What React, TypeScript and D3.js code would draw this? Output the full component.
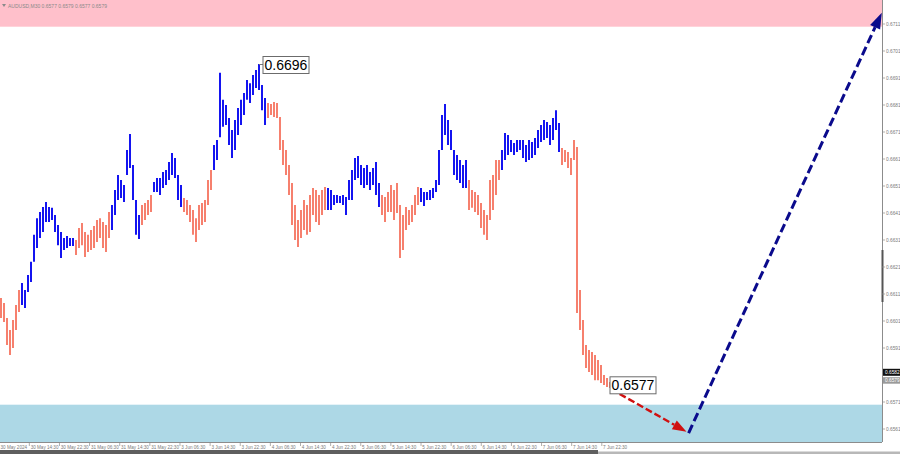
import React from 'react';
import * as d3 from 'd3';

// Bar highs / lows (AUDUSD)
const highs = [
  0.66095, 0.66077, 0.66021, 0.65977, 0.66014, 0.66069, 0.66125, 0.66151, 0.66125, 0.6618,
  0.66229, 0.66329, 0.66391, 0.66414, 0.66432, 0.66451, 0.66432, 0.66429, 0.66403, 0.66366,
  0.6634, 0.66317, 0.66325, 0.66317, 0.66317, 0.6631, 0.66354, 0.66373, 0.6634, 0.66329,
  0.66347, 0.66362, 0.66384, 0.66391, 0.66377, 0.66366, 0.66414, 0.6644, 0.66495, 0.66551,
  0.66532, 0.66514, 0.66643, 0.66703, 0.66588, 0.66458, 0.66403, 0.6644, 0.66447, 0.66458,
  0.66477, 0.66525, 0.6654, 0.6654, 0.66562, 0.66569, 0.66599, 0.66632, 0.66614, 0.66551,
  0.66514, 0.66466, 0.66458, 0.6644, 0.66421, 0.66391, 0.6644, 0.66447, 0.66458, 0.66532,
  0.66569, 0.66662, 0.6668, 0.66929, 0.66829, 0.6681, 0.66762, 0.66717, 0.66754, 0.66799,
  0.66829, 0.66854, 0.66903, 0.66891, 0.66921, 0.6694, 0.66962, 0.66884, 0.66836, 0.66817,
  0.66814, 0.66821, 0.66817, 0.66766, 0.6668, 0.66643, 0.66588, 0.66521, 0.6644, 0.66384,
  0.66421, 0.66458, 0.6644, 0.66477, 0.66503, 0.66495, 0.66477, 0.66495, 0.66506, 0.66503,
  0.66495, 0.66477, 0.66477, 0.66473, 0.66477, 0.66469, 0.66532, 0.66569, 0.66614, 0.66621,
  0.66588, 0.66577, 0.66588, 0.66562, 0.66577, 0.66599, 0.66521, 0.66477, 0.66469, 0.66488,
  0.66514, 0.66495, 0.66521, 0.6644, 0.66403, 0.66432, 0.66421, 0.6644, 0.66477, 0.66506,
  0.66503, 0.66488, 0.66488, 0.66495, 0.66503, 0.66532, 0.66643, 0.66773, 0.66814, 0.66754,
  0.66717, 0.66643, 0.66625, 0.66606, 0.66588, 0.66606, 0.66532, 0.66495, 0.66488, 0.66477,
  0.66447, 0.66421, 0.66403, 0.66532, 0.66551, 0.66606, 0.66606, 0.66643, 0.66706, 0.66699,
  0.6668, 0.66669, 0.6668, 0.6668, 0.6668, 0.66662, 0.6668, 0.66673, 0.66688, 0.66717,
  0.66736, 0.66754, 0.66747, 0.66736, 0.66762, 0.66791, 0.66743, 0.66651, 0.66643, 0.66636,
  0.66614, 0.6668, 0.66654, 0.66125, 0.66014, 0.65921, 0.65903, 0.65895, 0.65884, 0.65866,
  0.65847, 0.6581, 0.65799, 0.65784,
];

const lows = [
  0.66021, 0.66006, 0.65921, 0.65884, 0.6591, 0.65977, 0.66043, 0.66069, 0.66058, 0.66117,
  0.66154, 0.66229, 0.6628, 0.66317, 0.6634, 0.66377, 0.66377, 0.66384, 0.6634, 0.66291,
  0.66243, 0.66273, 0.6628, 0.66288, 0.66288, 0.66254, 0.6628, 0.66291, 0.66247, 0.66266,
  0.66273, 0.6628, 0.66303, 0.66317, 0.6628, 0.66266, 0.66317, 0.66347, 0.66403, 0.66458,
  0.66466, 0.66451, 0.66551, 0.66577, 0.66458, 0.66329, 0.66314, 0.66366, 0.66384, 0.66403,
  0.66414, 0.66488, 0.66488, 0.66477, 0.66503, 0.66514, 0.66532, 0.66551, 0.6654, 0.66458,
  0.66432, 0.66414, 0.66403, 0.66377, 0.66329, 0.66303, 0.66347, 0.66366, 0.66377, 0.6644,
  0.66495, 0.66569, 0.66606, 0.66691, 0.66729, 0.66736, 0.66662, 0.66614, 0.66643, 0.66699,
  0.66736, 0.66773, 0.66829, 0.66817, 0.66847, 0.66873, 0.66866, 0.66791, 0.66736, 0.66762,
  0.66773, 0.66766, 0.66762, 0.66643, 0.66588, 0.66551, 0.66477, 0.66366, 0.6631, 0.66284,
  0.66317, 0.66347, 0.66329, 0.6634, 0.66403, 0.66377, 0.66366, 0.66403, 0.66421, 0.66421,
  0.66421, 0.6644, 0.66447, 0.66447, 0.6644, 0.66403, 0.66458, 0.66458, 0.66532, 0.6654,
  0.66514, 0.66503, 0.66514, 0.66495, 0.66514, 0.66477, 0.66432, 0.66403, 0.66377, 0.66414,
  0.66414, 0.66384, 0.6641, 0.66243, 0.66273, 0.66347, 0.66366, 0.66377, 0.66403, 0.6644,
  0.66451, 0.66436, 0.66458, 0.66458, 0.66466, 0.66488, 0.66514, 0.66643, 0.66699, 0.66662,
  0.66643, 0.66551, 0.66532, 0.66521, 0.66503, 0.66503, 0.66421, 0.66429, 0.66414, 0.66403,
  0.66354, 0.66329, 0.6631, 0.66384, 0.66421, 0.66477, 0.66532, 0.66569, 0.66606, 0.66625,
  0.66636, 0.66625, 0.66636, 0.66643, 0.66614, 0.66599, 0.66606, 0.66614, 0.66625, 0.66651,
  0.66673, 0.6668, 0.66688, 0.66662, 0.6668, 0.66717, 0.66636, 0.66588, 0.66599, 0.66577,
  0.66551, 0.66606, 0.6604, 0.65977, 0.65884, 0.65836, 0.65821, 0.6581, 0.65791, 0.65791,
  0.6578, 0.65773, 0.65766, 0.65762,
];

// Zigzag waves: first bar index of each wave and its direction
const waveStarts = [0, 7, 25, 37, 47, 51, 61, 71, 89, 109, 127, 140, 156, 167, 187];
const waveDirs = ['down', 'up', 'down', 'up', 'down', 'up', 'down', 'up', 'down', 'up', 'down', 'up', 'down', 'up', 'down'];

const priceTicks = [0.6711, 0.6701, 0.6691, 0.6681, 0.6671, 0.6661, 0.6651, 0.6641, 0.6631, 0.6621, 0.6611, 0.6601, 0.6591, 0.6571, 0.6561];

const timeLabels = [
  '30 May 2024', '30 May 14:30', '30 May 22:30', '31 May 06:30', '31 May 14:30', '31 May 22:30',
  '3 Jun 06:30', '3 Jun 14:30', '3 Jun 22:30', '4 Jun 06:30', '4 Jun 14:30', '4 Jun 22:30',
  '5 Jun 06:30', '5 Jun 14:30', '5 Jun 22:30', '6 Jun 06:30', '6 Jun 14:30', '6 Jun 22:30',
  '7 Jun 06:30', '7 Jun 14:30', '7 Jun 22:30',
];

const peakLabel = { index: 86, price: 0.6696, text: '0.6696' };
const lastLabel = { index: 203, price: 0.6577, text: '0.6577' };
const askPrice = 0.6582;
const bidPrice = 0.6579;
const resistanceZone = [0.6710, 0.6720];
const supportZone = [0.6556, 0.6570];
const redArrow = { from: [203.3, 0.65758], to: [228.5, 0.6560] };
const navyArrow = { from: [229.2, 0.65595], to: [293.6, 0.67152] };
const titleText = 'AUDUSD,M30  0.6577 0.6579 0.6577 0.6579';

const W = 900;
const H = 454;
const axisX = 882;
const plotBottom = 442;

function Arrow({ x1, y1, x2, y2, color, width, dash, headLen, headW }) {
  const ang = Math.atan2(y2 - y1, x2 - x1);
  const bx = x2 - headLen * Math.cos(ang);
  const by = y2 - headLen * Math.sin(ang);
  const px = -Math.sin(ang) * headW / 2;
  const py = Math.cos(ang) * headW / 2;
  return (
    <g>
      <line x1={x1} y1={y1} x2={bx} y2={by} stroke={color} strokeWidth={width} strokeDasharray={dash} />
      <polygon points={`${x2},${y2} ${bx + px},${by + py} ${bx - px},${by - py}`} fill={color} />
    </g>
  );
}

export default function App() {
  const x = d3.scaleLinear().domain([0, 203]).range([1, 610]);
  const y = d3.scaleLinear().domain([0.6711, 0.6561]).range([24, 429]);
  const tx = d3.scaleLinear().domain([0, 20]).range([-0.8, 601.8]);

  const colorOf = (i) => {
    let k = 0;
    for (let j = 0; j < waveStarts.length; j++) if (i >= waveStarts[j]) k = j;
    return waveDirs[k] === 'up' ? '#1414f0' : '#f6806e';
  };

  const font = "'Liberation Sans', Arial, sans-serif";

  return (
    <svg width={W} height={H} style={{ position: 'absolute', left: 0, top: 0, background: '#fff' }} fontFamily={font}>
      <rect x={0} y={0} width={W} height={H} fill="#ffffff" />
      {/* zones */}
      <rect x={0} y={0} width={axisX} height={y(resistanceZone[0])} fill="#ffc0cb" />
      <rect x={0} y={y(supportZone[1])} width={axisX} height={plotBottom - y(supportZone[1])} fill="#add8e6" />

      {/* title */}
      <polygon points="2,4 6,4 4,7" fill="#8a8a8a" />
      <text x={8} y={7.5} fontSize={5} fill="#8a8a8a">{titleText}</text>

      {/* bars */}
      {highs.map((h, i) => (
        <line key={i} x1={x(i)} x2={x(i)} y1={y(h)} y2={y(lows[i])} stroke={colorOf(i)} strokeWidth={2} />
      ))}

      {/* right axis */}
      <line x1={axisX + 0.5} y1={0} x2={axisX + 0.5} y2={plotBottom} stroke="#8c8c8c" strokeWidth={1} />
      <line x1={axisX + 0.5} y1={250} x2={axisX + 0.5} y2={302} stroke="#555" strokeWidth={2} />
      {priceTicks.map((p) => (
        <g key={p}>
          <line x1={axisX} x2={axisX + 3} y1={y(p)} y2={y(p)} stroke="#8c8c8c" strokeWidth={0.7} />
          <text x={axisX + 4} y={y(p) + 1.7} fontSize={4.8} fill="#7a7a7a">{p.toFixed(4)}</text>
        </g>
      ))}
      <rect x={axisX + 1} y={y(askPrice) - 3.5} width={W - axisX - 1} height={7} fill="#111" />
      <text x={axisX + 3} y={y(askPrice) + 1.7} fontSize={4.8} fill="#fff">{askPrice.toFixed(4)}</text>
      <rect x={axisX + 1} y={y(bidPrice) - 3.2} width={W - axisX - 1} height={6.5} fill="#9a9a9a" />
      <text x={axisX + 3} y={y(bidPrice) + 1.7} fontSize={4.8} fill="#fff">{bidPrice.toFixed(4)}</text>

      {/* bottom axis */}
      <line x1={0} y1={plotBottom + 0.5} x2={axisX} y2={plotBottom + 0.5} stroke="#8c8c8c" strokeWidth={1} />
      {timeLabels.map((t, k) => (
        <g key={t}>
          {k > 0 && <line x1={tx(k)} x2={tx(k)} y1={plotBottom} y2={plotBottom + 4} stroke="#8c8c8c" strokeWidth={0.7} />}
          <text x={k === 0 ? 0.5 : tx(k) + 1.3} y={plotBottom + 6.5} fontSize={4.6} fill="#7a7a7a">{t}</text>
        </g>
      ))}
      <rect x={0} y={450} width={598} height={4} fill="#5f5f5f" />
      <rect x={598} y={451.5} width={W - 598} height={2.5} fill="#b8b8b8" />

      {/* arrows */}
      <Arrow x1={x(redArrow.from[0])} y1={y(redArrow.from[1])} x2={x(redArrow.to[0])} y2={y(redArrow.to[1])}
        color="#d01010" width={2.4} dash="7 3" headLen={14} headW={10} />
      <Arrow x1={x(navyArrow.from[0])} y1={y(navyArrow.from[1])} x2={x(navyArrow.to[0])} y2={y(navyArrow.to[1])}
        color="#0a0a8c" width={3} dash="9 4" headLen={16} headW={11} />

      {/* price labels */}
      <line x1={x(peakLabel.index)} x2={x(peakLabel.index) + 4} y1={y(peakLabel.price)} y2={y(peakLabel.price)} stroke="#777" strokeWidth={1} />
      <rect x={x(peakLabel.index) + 4} y={y(peakLabel.price) - 8} width={46} height={17} fill="#fff" stroke="#6b6b6b" strokeWidth={1} />
      <text x={x(peakLabel.index) + 27} y={y(peakLabel.price) + 5} fontSize={14} fill="#000" textAnchor="middle">{peakLabel.text}</text>

      <rect x={x(lastLabel.index)} y={y(lastLabel.price) - 9} width={46} height={17} fill="#fff" stroke="#6b6b6b" strokeWidth={1} />
      <text x={x(lastLabel.index) + 23} y={y(lastLabel.price) + 4} fontSize={14} fill="#000" textAnchor="middle">{lastLabel.text}</text>
    </svg>
  );
}
